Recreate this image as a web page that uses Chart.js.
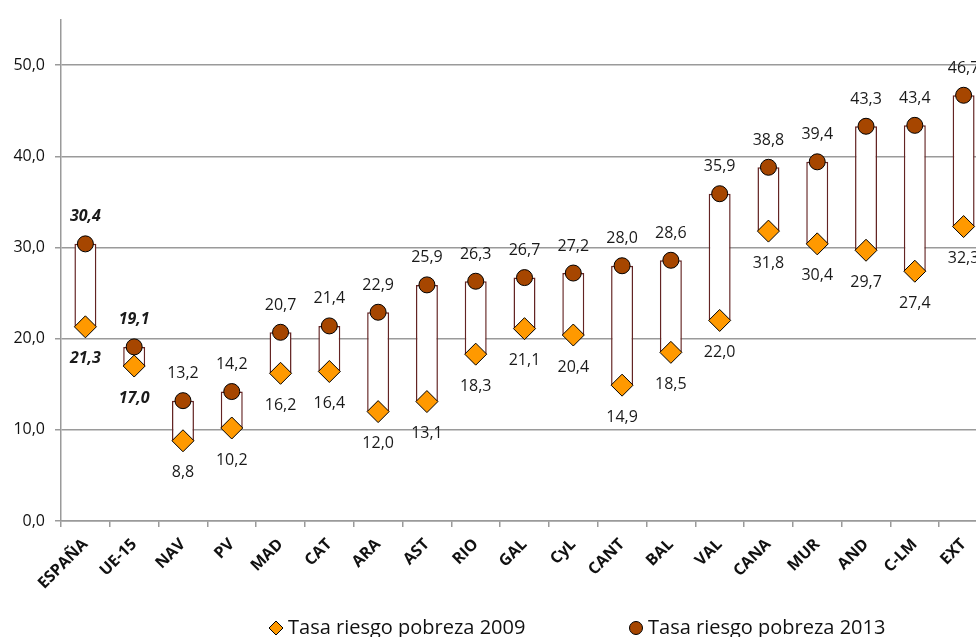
<!DOCTYPE html>
<html>
<head>
<meta charset="utf-8">
<script src="https://cdn.jsdelivr.net/npm/chart.js@4.4.1/dist/chart.umd.min.js"></script>
<style>
  html, body { margin: 0; padding: 0; background: #fff; overflow: hidden; }
  #wrap { width: 1000px; height: 637px; }
</style>
</head>
<body>
<div id="wrap"><canvas id="chart" width="1000" height="637"></canvas></div>
<script>
// regions and poverty risk rates (%)
const regions = ['ESPAÑA', 'UE-15', 'NAV', 'PV', 'MAD', 'CAT', 'ARA', 'AST', 'RIO', 'GAL',
  'CyL', 'CANT', 'BAL', 'VAL', 'CANA', 'MUR', 'AND', 'C-LM', 'EXT'];
const rate2009 = [21.3, 17.0, 8.8, 10.2, 16.2, 16.4, 12.0, 13.1, 18.3, 21.1,
  20.4, 14.9, 18.5, 22.0, 31.8, 30.4, 29.7, 27.4, 32.3];
const rate2013 = [30.4, 19.1, 13.2, 14.2, 20.7, 21.4, 22.9, 25.9, 26.3, 26.7,
  27.2, 28.0, 28.6, 35.9, 38.8, 39.4, 43.3, 43.4, 46.7];
const yTicks = [0, 10, 20, 30, 40, 50];
const legendLabels = ['Tasa riesgo pobreza 2009', 'Tasa riesgo pobreza 2013'];

const ORANGE = '#FF9900';
const BROWN = '#A64600';
const BAR_BORDER = '#632423';
const GRID = '#9a9a9a';
const FONT = "'Open Sans', sans-serif";

const fmt = v => v.toFixed(1).replace('.', ',');

// value labels: 2013 above the circle, 2009 below the diamond
const valueLabels = {
  id: 'valueLabels',
  afterDatasetsDraw(chart) {
    const ctx = chart.ctx;
    ctx.save();
    ctx.fillStyle = '#1a1a1a';
    ctx.textAlign = 'center';
    ctx.textBaseline = 'middle';
    [[1, rate2009, 32], [2, rate2013, -27]].forEach(([di, vals, dy]) => {
      chart.getDatasetMeta(di).data.forEach((pt, i) => {
        const emph = i < 2;
        ctx.font = (emph ? 'italic bold ' : '') + '16px ' + FONT;
        ctx.fillText(fmt(vals[i]), pt.x, pt.y + dy);
      });
    });
    ctx.restore();
  }
};

// Excel-like legend at the bottom
const bottomLegend = {
  id: 'bottomLegend',
  afterDraw(chart) {
    const ctx = chart.ctx;
    ctx.save();
    ctx.font = '20px ' + FONT;
    ctx.textBaseline = 'alphabetic';
    ctx.textAlign = 'left';
    const y = 628;
    // diamond
    ctx.beginPath();
    ctx.moveTo(276, y - 7); ctx.lineTo(283, y); ctx.lineTo(276, y + 7); ctx.lineTo(269, y); ctx.closePath();
    ctx.fillStyle = ORANGE; ctx.fill();
    ctx.lineWidth = 1; ctx.strokeStyle = '#000'; ctx.stroke();
    ctx.fillStyle = '#111';
    ctx.fillText(legendLabels[0], 288, 634);
    // circle
    ctx.beginPath();
    ctx.arc(636, y, 6.5, 0, Math.PI * 2);
    ctx.fillStyle = BROWN; ctx.fill();
    ctx.stroke();
    ctx.fillStyle = '#111';
    ctx.fillText(legendLabels[1], 648, 634);
    ctx.restore();
  }
};

new Chart(document.getElementById('chart'), {
  data: {
    labels: regions,
    datasets: [
      {
        type: 'bar',
        label: 'range',
        data: rate2009.map((v, i) => [v, rate2013[i]]),
        backgroundColor: '#ffffff',
        borderColor: BAR_BORDER,
        borderWidth: 1.5,
        borderSkipped: false,
        barPercentage: 0.9,
        categoryPercentage: 0.5,
        order: 3
      },
      {
        type: 'line',
        label: legendLabels[0],
        data: rate2009,
        showLine: false,
        pointStyle: 'rectRot',
        pointRadius: 11,
        pointBackgroundColor: ORANGE,
        pointBorderColor: '#000',
        pointBorderWidth: 1,
        order: 2
      },
      {
        type: 'line',
        label: legendLabels[1],
        data: rate2013,
        showLine: false,
        pointStyle: 'circle',
        pointRadius: 8,
        pointBackgroundColor: BROWN,
        pointBorderColor: '#000',
        pointBorderWidth: 1,
        order: 1
      }
    ]
  },
  options: {
    responsive: false,
    animation: false,
    layout: { padding: { top: 15, right: 0, bottom: 0, left: 0 } },
    plugins: {
      legend: { display: false },
      tooltip: { enabled: false }
    },
    scales: {
      x: {
        offset: true,
        grid: { offset: true, drawOnChartArea: false, drawTicks: true, tickLength: 6, color: GRID, lineWidth: 1.5 },
        border: { color: GRID, width: 1.5 },
        ticks: {
          minRotation: 45, maxRotation: 45, padding: 8,
          color: '#111',
          font: { family: FONT, size: 16, weight: 'bold' }
        },
        afterFit(scale) { scale.height = 116; }
      },
      y: {
        min: 0,
        max: 55,
        grid: { color: GRID, lineWidth: 1.5, tickLength: 6 },
        border: { color: GRID, width: 1.5 },
        afterBuildTicks(axis) { axis.ticks = yTicks.map(v => ({ value: v })); },
        ticks: {
          padding: 10,
          color: '#111',
          font: { family: FONT, size: 16 },
          callback: v => fmt(v)
        },
        afterFit(scale) { scale.width = 61; }
      }
    }
  },
  plugins: [valueLabels, bottomLegend]
});
</script>
</body>
</html>
